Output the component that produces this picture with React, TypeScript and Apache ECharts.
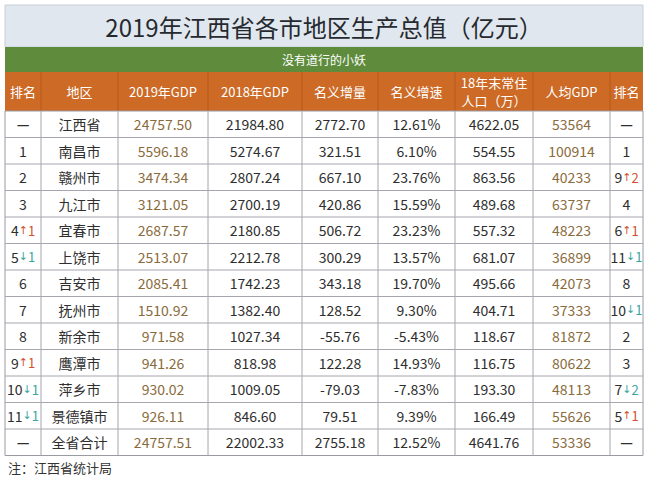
import React, { useEffect, useRef } from "react";
import * as echarts from "echarts";

const titleText = "2019年江西省各市地区生产总值（亿元）";
const subtitleText = "没有道行的小妖";
const noteText = "注：江西省统计局";
const headers = ["排名", "地区", "2019年GDP", "2018年GDP", "名义增量", "名义增速", "18年末常住\n人口（万）", "人均GDP", "排名"];

const gdpRank = ["—", "1", "2", "3", "4", "5", "6", "7", "8", "9", "10", "11", "—"];
const gdpRankChange = [0, 0, 0, 0, 1, -1, 0, 0, 0, 1, -1, -1, 0];
const regions = ["江西省", "南昌市", "赣州市", "九江市", "宜春市", "上饶市", "吉安市", "抚州市", "新余市", "鹰潭市", "萍乡市", "景德镇市", "全省合计"];
const gdp2019 = [24757.5, 5596.18, 3474.34, 3121.05, 2687.57, 2513.07, 2085.41, 1510.92, 971.58, 941.26, 930.02, 926.11, 24757.51];
const gdp2018 = [21984.8, 5274.67, 2807.24, 2700.19, 2180.85, 2212.78, 1742.23, 1382.4, 1027.34, 818.98, 1009.05, 846.6, 22002.33];
const increase = [2772.7, 321.51, 667.1, 420.86, 506.72, 300.29, 343.18, 128.52, -55.76, 122.28, -79.03, 79.51, 2755.18];
const growth = [12.61, 6.1, 23.76, 15.59, 23.23, 13.57, 19.7, 9.3, -5.43, 14.93, -7.83, 9.39, 12.52];
const population = [4622.05, 554.55, 863.56, 489.68, 557.32, 681.07, 495.66, 404.71, 118.67, 116.75, 193.3, 166.49, 4641.76];
const perCapita = [53564, 100914, 40233, 63737, 48223, 36899, 42073, 37333, 81872, 80622, 48113, 55626, 53336];
const perCapitaRank = ["—", "1", "9", "4", "6", "11", "8", "10", "2", "3", "7", "5", "—"];
const perCapitaRankChange = [0, 0, 2, 0, 1, -1, 0, -1, 0, 0, -2, 1, 0];

const colX = [5, 41, 118, 208, 302, 378, 455, 533, 610, 643];
const FONT = '"Noto Sans CJK SC", "Noto Sans", sans-serif';

function rankText(r: string, ch: number) {
  if (ch > 0) return `{n|${r}}{ua|↑}{u|${ch}}`;
  if (ch < 0) return `{n|${r}}{da|↓}{d|${-ch}}`;
  if (r === "—") return `{m|${r}}`;
  return `{n|${r}}`;
}

export default function App() {
  const ref = useRef<HTMLDivElement>(null);
  useEffect(() => {
    if (!ref.current) return;
    const chart = echarts.init(ref.current, undefined, { renderer: "svg" });
    const els: any[] = [];
    const left = colX[0];
    const right = colX[colX.length - 1];
    const W = right - left;
    els.push({ type: "rect", shape: { x: left, y: 5, width: W, height: 42 }, style: { fill: "#e1e7ee", stroke: "#c8ced6", lineWidth: 1 } });
    els.push({ type: "text", x: (left + right) / 2, y: 26, style: { text: titleText, fill: "#262a30", font: `24px ${FONT}`, align: "center", verticalAlign: "middle" } });
    els.push({ type: "rect", shape: { x: left, y: 47, width: W, height: 25 }, style: { fill: "#5e8c3c" } });
    els.push({ type: "text", x: (left + right) / 2, y: 59.5, style: { text: subtitleText, fill: "#ffffff", font: `12px ${FONT}`, align: "center", verticalAlign: "middle" } });
    const hTop = 72, hBot = 111;
    els.push({ type: "rect", shape: { x: left, y: hTop, width: W, height: hBot - hTop }, style: { fill: "#cc6a26" } });
    headers.forEach((h, i) => {
      const cx = (colX[i] + colX[i + 1]) / 2;
      els.push({ type: "text", x: cx, y: (hTop + hBot) / 2, style: { text: h, fill: "#ffffff", font: `13px ${FONT}`, align: "center", verticalAlign: "middle", lineHeight: 18 } });
      if (i > 0) els.push({ type: "line", shape: { x1: colX[i], y1: hTop, x2: colX[i], y2: hBot }, style: { stroke: "#b85a1c", lineWidth: 1 } });
    });
    const rowH = 26.5;
    const n = regions.length;
    const bTop = hBot;
    const bBot = bTop + rowH * n;
    els.push({ type: "rect", shape: { x: left, y: bTop, width: W, height: bBot - bTop }, style: { fill: "#ffffff", stroke: "#9a9aa2", lineWidth: 1 } });
    for (let r = 1; r < n; r++) {
      const y = bTop + r * rowH;
      els.push({ type: "line", shape: { x1: left, y1: y, x2: right, y2: y }, style: { stroke: "#a6a6ae", lineWidth: 1 } });
    }
    for (let c = 1; c < colX.length - 1; c++) {
      els.push({ type: "line", shape: { x1: colX[c], y1: bTop, x2: colX[c], y2: bBot }, style: { stroke: "#a6a6ae", lineWidth: 1 } });
    }
    const dark = "#2e2e2e";
    const brown = "#8a6b3c";
    const rich = {
      n: { fill: dark, font: `14px ${FONT}` },
      m: { fill: dark, font: `bold 14px ${FONT}` },
      ua: { fill: "#d0502e", font: `11px "DejaVu Sans"` },
      u: { fill: "#d0502e", font: `13px ${FONT}` },
      da: { fill: "#3aa6a0", font: `11px "DejaVu Sans"` },
      d: { fill: "#3aa6a0", font: `13px ${FONT}` },
    };
    for (let r = 0; r < n; r++) {
      const cy = bTop + r * rowH + rowH / 2;
      const cells: [string, string][] = [
        ["", ""],
        [regions[r], dark],
        [gdp2019[r].toFixed(2), brown],
        [gdp2018[r].toFixed(2), dark],
        [increase[r].toFixed(2), dark],
        [growth[r].toFixed(2) + "%", dark],
        [population[r].toFixed(2), dark],
        [String(perCapita[r]), brown],
        ["", ""],
      ];
      cells.forEach(([t, col], c) => {
        const cx = (colX[c] + colX[c + 1]) / 2;
        if (c === 0 || c === 8) {
          const txt = c === 0 ? rankText(gdpRank[r], gdpRankChange[r]) : rankText(perCapitaRank[r], perCapitaRankChange[r]);
          els.push({ type: "text", x: cx, y: cy, style: { text: txt, rich, align: "center", verticalAlign: "middle", font: `14px ${FONT}` } });
        } else {
          els.push({ type: "text", x: cx, y: cy, style: { text: t, fill: col, font: `14px ${FONT}`, align: "center", verticalAlign: "middle" } });
        }
      });
    }
    els.push({ type: "text", x: 8, y: bBot + 12, style: { text: noteText, fill: "#333333", font: `13px ${FONT}`, align: "left", verticalAlign: "middle" } });

    chart.setOption({ animation: false, backgroundColor: "#ffffff", graphic: { elements: els } });
    return () => chart.dispose();
  }, []);
  return <div ref={ref} style={{ position: "fixed", left: 0, top: 0, width: 650, height: 482 }} />;
}
